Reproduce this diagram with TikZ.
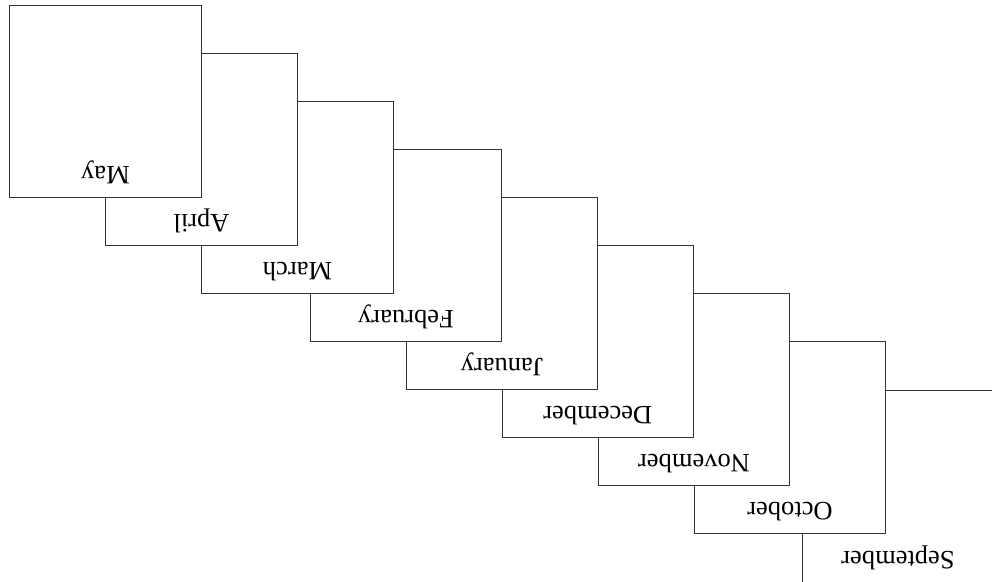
\documentclass[tikz,border=0pt]{standalone}
\usepackage{fontspec}
\setmainfont{Liberation Serif}

\begin{document}
\begin{tikzpicture}[x=1pt,y=1pt,
	month/.style={shape=rectangle,draw=black!80,fill=white,line width=0.7pt,minimum width=191.5pt,minimum height=191.5pt,inner sep=0pt},
	mname/.style={rotate=180,anchor=base,inner sep=0pt,font=\fontsize{26.5}{30}\selectfont}]
	\useasboundingbox (0,0) rectangle (992,581);
	\clip (0,0) rectangle (992,581);
	\node[month,minimum height=196pt] (sep) at (898, 92.75) {};
	\node[mname] (sept) at ([yshift=35.25pt]sep.south) {September};
	\node[month] (oct) at (790, 143.5)    {};
	\node[mname] (octt) at ([yshift=31pt]oct.south) {October};
	\node[month] (nov) at (694, 191.5)    {};
	\node[mname] (novt) at ([yshift=31pt]nov.south) {November};
	\node[month] (dec) at (597.75, 239.5) {};
	\node[mname] (dect) at ([yshift=31pt]dec.south) {December};
	\node[month] (jan) at (502, 287.5)    {};
	\node[mname] (jant) at ([yshift=31pt]jan.south) {January};
	\node[month] (feb) at (406, 335.5)    {};
	\node[mname] (febt) at ([yshift=31pt]feb.south) {February};
	\node[month] (mar) at (297.5, 383.5)  {};
	\node[mname] (mart) at ([yshift=31pt]mar.south) {March};
	\node[month] (apr) at (201.5, 431.5)  {};
	\node[mname] (aprt) at ([yshift=31pt]apr.south) {April};
	\node[month] (may) at (105.5, 479.5)  {};
	\node[mname] (mayt) at ([yshift=31pt]may.south) {May};
\end{tikzpicture}
\end{document}
